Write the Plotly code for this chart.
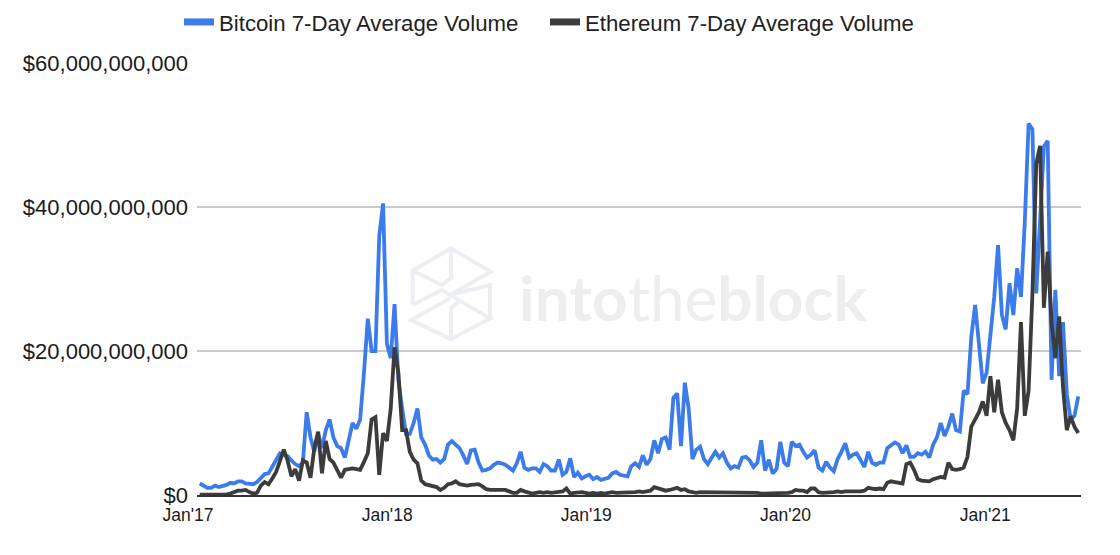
import numpy as np
import pandas as pd
import plotly.graph_objects as go

# weekly readings, in billions of USD
btc_bn = [1.6, 1.3, 1.0, 1.0, 1.3, 1.1, 1.2, 1.4, 1.7, 1.6, 1.9, 1.9, 1.6, 1.5, 1.5, 1.8, 2.4, 2.9, 3.0, 4.0,
          5.0, 5.8, 5.6, 5.4, 4.8, 4.3, 4.0, 4.5, 11.5, 8.0, 6.0, 8.5, 6.5, 9.0, 10.5, 8.0, 6.8, 6.5, 5.2, 7.5,
          10.0, 9.2, 10.5, 17.0, 24.5, 20.0, 20.0, 36.0, 40.5, 21.0, 19.0, 26.5, 16.0, 12.0, 8.5, 8.5, 10.0, 12.0, 8.0, 7.0,
          5.5, 4.9, 5.0, 4.5, 5.0, 7.0, 7.5, 7.0, 6.5, 5.5, 4.3, 6.2, 6.3, 4.5, 3.4, 3.5, 3.7, 4.2, 4.5, 4.4,
          4.2, 3.8, 3.4, 4.4, 6.0, 3.8, 3.5, 3.7, 3.7, 3.2, 4.3, 4.0, 3.4, 3.4, 4.9, 2.8, 3.2, 5.1, 2.5, 3.1,
          2.3, 2.6, 2.8, 2.2, 2.5, 2.1, 2.2, 2.4, 3.0, 3.2, 2.8, 2.7, 2.6, 4.0, 4.4, 3.9, 5.5, 4.2, 5.0, 7.6,
          5.8, 7.8, 8.0, 6.3, 13.5, 14.1, 6.8, 15.6, 12.0, 5.0, 6.3, 6.7, 5.0, 4.3, 5.2, 6.0, 5.2, 5.8, 4.5, 3.7,
          4.0, 3.8, 5.2, 5.3, 4.8, 3.9, 4.5, 7.6, 3.4, 4.9, 3.0, 3.6, 7.4, 4.5, 4.0, 7.4, 6.8, 7.0, 6.0, 5.2,
          5.6, 6.2, 3.8, 3.4, 4.6, 3.8, 3.3, 5.0, 6.0, 7.2, 5.2, 5.6, 5.8, 4.8, 3.9, 6.0, 4.5, 4.2, 4.5, 4.5,
          6.5, 6.9, 7.3, 7.0, 5.8, 6.9, 5.3, 5.3, 5.8, 5.6, 6.0, 5.2, 7.0, 8.0, 10.0, 8.2, 9.5, 11.3, 9.0, 8.8,
          14.5, 14.0, 22.0, 26.4, 20.5, 15.5, 17.0, 22.0, 27.5, 34.7, 25.0, 23.0, 29.4, 25.0, 31.5, 27.5, 38.0, 51.6, 50.8, 28.0,
          38.0, 48.4, 49.2, 16.0, 28.5, 16.5, 24.0, 14.0, 10.5, 11.0, 13.7]
eth_bn = [0.05, 0.05, 0.05, 0.05, 0.05, 0.05, 0.1, 0.1, 0.2, 0.4, 0.6, 0.6, 0.7, 0.4, 0.2, 0.3, 1.3, 1.8, 1.5, 2.3,
          3.2, 4.7, 6.3, 4.8, 2.6, 3.6, 2.0, 4.8, 4.5, 2.4, 6.5, 8.8, 3.0, 7.5, 5.0, 4.5, 3.5, 2.4, 3.5, 3.6,
          3.7, 3.6, 3.5, 4.6, 5.8, 10.5, 10.8, 2.8, 8.6, 7.5, 12.0, 20.5, 17.0, 9.0, 9.0, 6.0, 4.9, 4.4, 2.0, 1.5,
          1.4, 1.3, 1.1, 0.7, 1.0, 1.5, 1.6, 1.9, 1.5, 1.4, 1.3, 1.4, 1.5, 1.5, 1.2, 0.8, 0.7, 0.7, 0.8, 0.7,
          0.7, 0.5, 0.3, 0.3, 0.7, 0.5, 0.3, 0.2, 0.3, 0.4, 0.3, 0.4, 0.3, 0.4, 0.4, 0.5, 0.9, 0.2, 0.3, 0.4,
          0.4, 0.3, 0.2, 0.3, 0.2, 0.3, 0.2, 0.3, 0.4, 0.3, 0.3, 0.3, 0.3, 0.4, 0.4, 0.5, 0.4, 0.5, 0.6, 1.1,
          0.9, 0.7, 0.6, 0.7, 0.8, 1.0, 0.7, 0.8, 0.5, 0.4, 0.3, 0.4, 0.4, 0.3, 0.3, 0.4, 0.3, 0.4, 0.4, 0.3,
          0.3, 0.4, 0.3, 0.3, 0.4, 0.3, 0.3, 0.2, 0.2, 0.2, 0.2, 0.2, 0.3, 0.2, 0.3, 0.4, 0.7, 0.6, 0.6, 0.4,
          0.9, 0.9, 0.4, 0.3, 0.3, 0.4, 0.4, 0.5, 0.4, 0.5, 0.5, 0.4, 0.5, 0.5, 0.6, 1.0, 0.9, 0.8, 0.9, 0.8,
          1.7, 1.9, 1.8, 1.7, 1.6, 4.3, 4.5, 3.5, 2.2, 2.0, 1.9, 1.9, 2.2, 2.3, 2.5, 2.4, 4.5, 3.6, 3.5, 3.6,
          3.8, 5.3, 9.5, 10.5, 11.5, 13.0, 11.0, 16.5, 11.5, 16.0, 11.5, 10.0, 9.0, 7.6, 12.0, 24.0, 11.0, 14.5, 28.0, 46.0,
          48.5, 26.0, 33.8, 24.0, 19.0, 24.8, 15.0, 9.0, 10.9, 9.5, 8.6]
week_dates = pd.date_range("2017-01-06", periods=len(btc_bn), freq="7D")
year_ticks = ["2017-01-01", "2018-01-01", "2019-01-01", "2020-01-01", "2021-01-01"]
year_labels = ["Jan'17", "Jan'18", "Jan'19", "Jan'20", "Jan'21"]

BLUE = "#3b7bea"
DARK = "#3c3c3c"
FONT = "Liberation Sans"
L, R, T, B = 197, 1081, 63, 495


def px_x(x):
    return (x - L) / (R - L)


def px_y(y):
    # paper runs from the top of the page down to the x axis
    return (B - y) / B


fig = go.Figure()
fig.add_trace(go.Scatter(x=week_dates, y=np.array(btc_bn) * 1e9, mode="lines", showlegend=False,
                         line=dict(color=BLUE, width=3.8)))
fig.add_trace(go.Scatter(x=week_dates, y=np.array(eth_bn) * 1e9, mode="lines", showlegend=False,
                         line=dict(color=DARK, width=3.8)))
# legend swatches are much thicker than the lines, each entry gets its own legend to place it
fig.add_trace(go.Scatter(x=[None], y=[None], mode="lines", name="Bitcoin 7-Day Average Volume",
                         line=dict(color=BLUE, width=7)))
fig.add_trace(go.Scatter(x=[None], y=[None], mode="lines", name="Ethereum 7-Day Average Volume",
                         legend="legend2", line=dict(color=DARK, width=7)))

# watermark logo, drawn in page pixels
logo = [
    [(38, 195), (38, 92), (153, 25), (272, 95), (150, 165)],
    [(153, 25), (153, 115), (125, 135), (38, 92)],
    [(38, 195), (125, 150), (270, 235), (153, 298), (35, 240), (150, 175)],
    [(150, 165), (270, 135), (270, 235)],
    [(153, 298), (153, 205), (175, 185)],
]
for part in logo:
    pts = [(px_x(400 + a / 3), px_y(240 + b / 3)) for a, b in part]
    path = "M " + " L ".join(f"{a:.4f},{b:.4f}" for a, b in pts)
    fig.add_shape(type="path", path=path, xref="paper", yref="paper", layer="below",
                  line=dict(color="#eceef3", width=4))

fig.add_annotation(text="<b>into</b>the<b>block</b>", xref="paper", yref="paper",
                   x=px_x(693), y=px_y(297), showarrow=False,
                   font=dict(family="Lato", size=62, color="#eeeeee"))

legend_style = dict(orientation="h", xanchor="left", yanchor="middle", y=px_y(22),
                    font=dict(family=FONT, size=22.2, color="#222222"),
                    itemwidth=30, bgcolor="rgba(0,0,0,0)")
fig.update_layout(
    width=1120, height=555, autosize=False,
    margin=dict(l=L, r=1120 - R, t=0, b=555 - B, pad=0, autoexpand=False),
    paper_bgcolor="white", plot_bgcolor="white",
    font=dict(family=FONT, color="#1a1a1a"),
    legend=dict(x=px_x(179), **legend_style),
    legend2=dict(x=px_x(545), **legend_style),
)
fig.update_xaxes(type="date", range=["2017-01-01", "2021-06-09"], tickmode="array",
                 tickvals=year_ticks, ticktext=year_labels, ticklabelshift=-9, ticklabelstandoff=3,
                 tickfont=dict(family=FONT, size=17.5, color="#1a1a1a"), ticks="", showgrid=False,
                 showline=True, linecolor="#333333", linewidth=2, zeroline=False)
fig.update_yaxes(range=[0, 60e9], dtick=20e9, tickformat="$,.0f", ticks="", showline=False, zeroline=False,
                 domain=[0, (B - T) / B],
                 tickfont=dict(family=FONT, size=22, color="#1a1a1a"),
                 gridcolor="#c9c9c9", gridwidth=1.5, ticklabelstandoff=8)

fig.write_html("out.html", config=dict(displayModeBar=False), post_script="document.body.style.margin='0';")
